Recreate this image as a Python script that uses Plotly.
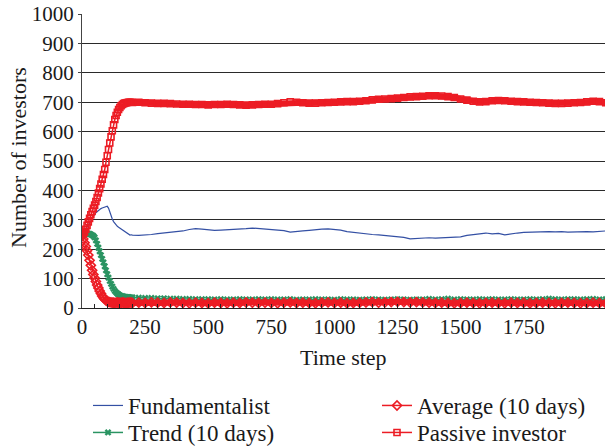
import plotly.graph_objects as go

# Time steps (early section sampled every 5 steps, later every 25 steps)
t_early = list(range(0, 201, 5))
t_late = list(range(225, 2076, 25))
time_steps = t_early + t_late

fundamentalist = [
    250, 255, 262, 268, 275, 283, 290, 297, 304, 311, 318, 324, 328, 332, 335, 338, 340, 341, 343, 345,
    346, 340, 326, 313, 303, 294, 288, 282, 278, 275, 272, 268, 264, 260, 257, 254, 251, 249, 248, 249, 248,
    247, 248, 250, 253, 255, 256, 259, 262, 267, 270, 268, 266, 264, 265, 266, 268, 267, 270, 272, 270,
    268, 265, 264, 263, 258, 261, 262, 264, 267, 268, 269, 267, 265, 260, 257, 254, 252, 250, 249, 247,
    245, 242, 240, 235, 237, 238, 239, 238, 239, 240, 241, 242, 247, 250, 253, 255, 252, 254, 249, 253,
    255, 257, 258, 259, 258, 260, 259, 260, 258, 259, 261, 260, 259, 261, 262,
]

trend_10 = [
    250, 252, 253, 254, 254, 253, 252, 250, 248, 245, 240, 230, 218, 205, 193, 180, 167, 155, 142, 128,
    115, 103, 92, 82, 73, 65, 58, 53, 49, 46, 43, 41, 40, 39, 38, 38, 37, 37, 36, 36, 36,
    35, 34, 34, 33, 33, 32, 32, 31, 31, 30, 30, 30, 29, 30, 29, 29, 30, 29, 29, 30,
    29, 30, 29, 29, 30, 28, 29, 29, 30, 29, 29, 28, 30, 29, 29, 28, 29, 30, 29, 28,
    29, 30, 29, 28, 29, 29, 31, 29, 30, 32, 29, 30, 29, 29, 30, 29, 30, 29, 29, 30,
    29, 29, 30, 29, 30, 32, 30, 29, 30, 30, 29, 30, 31, 29, 30,
]

average_10 = [
    250, 235, 222, 209, 195, 180, 162, 145, 128, 114, 102, 90, 78, 68, 58, 49, 41, 35, 30, 26,
    23, 21, 20, 19, 18, 18, 17, 18, 19, 17, 18, 17, 19, 18, 17, 16, 18, 17, 19, 18, 17,
    18, 17, 19, 18, 17, 19, 18, 17, 16, 18, 17, 16, 18, 17, 16, 18, 17, 19, 18, 17,
    18, 17, 16, 18, 19, 17, 18, 17, 16, 18, 19, 17, 18, 16, 17, 18, 19, 20, 18, 19,
    20, 21, 20, 19, 20, 19, 18, 17, 18, 17, 16, 17, 18, 17, 16, 17, 18, 17, 16, 18,
    17, 18, 16, 17, 18, 17, 16, 17, 18, 17, 16, 17, 18, 17, 16,
]

passive = [
    250, 253, 258, 268, 281, 293, 305, 317, 328, 339, 350, 362, 376, 391, 406, 422, 438, 454, 471, 496,
    518, 539, 561, 582, 603, 623, 641, 655, 666, 675, 682, 688, 692, 695, 697, 698, 699, 700, 700, 700, 699,
    700, 698, 697, 696, 696, 695, 694, 693, 693, 692, 692, 691, 692, 692, 693, 692, 691, 690, 691, 692,
    693, 693, 695, 698, 701, 700, 698, 697, 697, 698, 699, 700, 701, 702, 702, 703, 705, 708, 710, 711,
    712, 714, 716, 718, 719, 720, 722, 722, 721, 719, 716, 711, 707, 703, 701, 702, 705, 706, 705, 703,
    702, 701, 700, 699, 698, 697, 696, 696, 697, 698, 699, 701, 703, 702, 698,
]

for s in (fundamentalist, trend_10, average_10, passive):
    assert len(s) == len(time_steps), (len(s), len(time_steps))

x_tick_vals = [0, 250, 500, 750, 1000, 1250, 1500, 1750]
y_tick_vals = list(range(0, 1001, 100))

RED = "#ec1c24"
GREEN = "#2a9462"
BLUE = "#3450a4"
FONT = "Liberation Serif"
TXT = "#1a1a1a"
W, H = 605, 446

# index where the series settle onto their plateaus (dense marker band in the original)
settle_avg = time_steps.index(100)
settle_pas = time_steps.index(175)

fig = go.Figure()
fig.add_trace(go.Scatter(
    x=time_steps, y=fundamentalist, name="Fundamentalist", mode="lines",
    line=dict(color=BLUE, width=1.2), legend="legend",
))
fig.add_trace(go.Scatter(
    x=time_steps, y=trend_10, name="Trend (10 days)", mode="lines+markers",
    line=dict(color=GREEN, width=1.5),
    marker=dict(symbol="x", size=6, color=GREEN, line=dict(width=0)),
    legend="legend3",
))
fig.add_trace(go.Scatter(
    x=time_steps[settle_avg:], y=average_10[settle_avg:], mode="lines",
    line=dict(color=RED, width=6), showlegend=False, hoverinfo="skip",
))
fig.add_trace(go.Scatter(
    x=time_steps, y=average_10, name="Average (10 days)", mode="lines+markers",
    line=dict(color=RED, width=1.5),
    marker=dict(symbol="diamond-open", size=7, color=RED, line=dict(width=1.6)),
    legend="legend2",
))
fig.add_trace(go.Scatter(
    x=time_steps[settle_pas:], y=passive[settle_pas:], mode="lines",
    line=dict(color=RED, width=6), showlegend=False, hoverinfo="skip",
))
fig.add_trace(go.Scatter(
    x=time_steps, y=passive, name="Passive investor", mode="lines+markers",
    line=dict(color=RED, width=1.5),
    marker=dict(symbol="square-open", size=6, color=RED, line=dict(width=1.6)),
    legend="legend4",
))

def leg(xpx, ytop_px):
    return dict(
        orientation="v", xref="container", yref="container",
        x=xpx / W, y=1 - ytop_px / H, xanchor="left", yanchor="top",
        font=dict(family=FONT, size=23, color=TXT),
        bgcolor="rgba(0,0,0,0)", borderwidth=0,
    )

fig.update_layout(
    width=W, height=H,
    margin=dict(l=82, r=0, t=14, b=138, autoexpand=False),
    paper_bgcolor="white", plot_bgcolor="white",
    font=dict(family=FONT, size=21, color=TXT),
    showlegend=True,
    legend=leg(88, 384),
    legend2=leg(377, 384),
    legend3=leg(88, 411),
    legend4=leg(377, 411),
    xaxis=dict(
        range=[0, 2072], tickvals=x_tick_vals, ticktext=[str(v) for v in x_tick_vals],
        showgrid=False, zeroline=False, showline=True, linecolor="#222", linewidth=1,
        ticks="inside", ticklen=4, tickcolor="#222", automargin=False,
        minor=dict(dtick=50, tick0=0, ticks="inside", ticklen=4, tickcolor="#222", showgrid=False),
        tickfont=dict(family=FONT, size=21, color=TXT),
    ),
    yaxis=dict(
        range=[0, 1000], tickvals=y_tick_vals,
        showgrid=True, gridcolor="#2a2a2a", gridwidth=1, zeroline=False,
        showline=True, linecolor="#444", linewidth=1, automargin=False,
        ticks="outside", ticklen=3, tickcolor="#444",
        tickfont=dict(family=FONT, size=21, color=TXT),
    ),
    annotations=[
        dict(text="Time step", xref="paper", yref="paper",
             x=(343 - 82) / (W - 82), y=-(357 - 308) / 294,
             xanchor="center", yanchor="middle", showarrow=False,
             font=dict(family=FONT, size=22, color=TXT)),
        dict(text="Number of investors", xref="paper", yref="paper",
             x=-(82 - 18) / (W - 82), y=(308 - 158) / 294, textangle=-90,
             xanchor="center", yanchor="middle", showarrow=False,
             font=dict(family=FONT, size=22, color=TXT)),
    ],
)

fig.write_html(
    "out.html",
    config={"displayModeBar": False},
    post_script="document.body.style.margin='0';window.dispatchEvent(new Event('resize'));",
)
